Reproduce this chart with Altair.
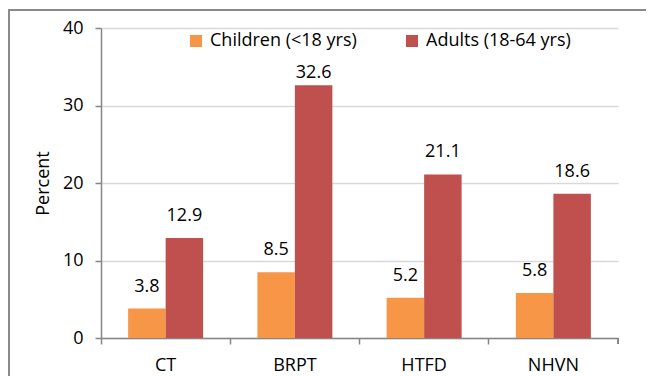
import altair as alt
import pandas as pd

regions = ["CT", "BRPT", "HTFD", "NHVN"]
groups = ["Children (<18 yrs)", "Adults (18-64 yrs)"]
children = [3.8, 8.5, 5.2, 5.8]
adults = [12.9, 32.6, 21.1, 18.6]
colors = ["#F79646", "#C0504D"]

rows = []
for r, c, a in zip(regions, children, adults):
    rows.append({"region": r, "group": groups[0], "value": c})
    rows.append({"region": r, "group": groups[1], "value": a})
df = pd.DataFrame(rows)

W, H = 517, 310
FONT = "Open Sans"

x_enc = alt.X("region:N", sort=regions, title=None,
              scale=alt.Scale(paddingInner=0, paddingOuter=0),
              axis=alt.Axis(labelAngle=0, bandPosition=0, tickSize=6, labelPadding=12,
                            labelFontSize=18, labelFont=FONT, labelColor="#000000",
                            domainColor="#868686", tickColor="#868686", domainWidth=1.5, tickWidth=1.5))
xoff = alt.XOffset("group:N", sort=groups, scale=alt.Scale(paddingOuter=0.7235, paddingInner=0))

bars = alt.Chart(df).mark_bar().encode(
    x=x_enc,
    xOffset=xoff,
    y=alt.Y("value:Q", title="Percent",
            scale=alt.Scale(domain=[0, 40], nice=False),
            axis=alt.Axis(values=[0, 10, 20, 30, 40], tickSize=6, labelPadding=12,
                          labelFontSize=18, labelFont=FONT, labelColor="#000000",
                          titleFontSize=18, titleFont=FONT, titleFontWeight="normal",
                          titleColor="#000000", titlePadding=10,
                          domainColor="#868686", tickColor="#868686", domainWidth=1.5, tickWidth=1.5,
                          gridColor="#D9D9D9", gridWidth=1.5)),
    color=alt.Color("group:N", sort=groups,
                    scale=alt.Scale(domain=groups, range=colors),
                    legend=alt.Legend(title=None, orient="none", legendX=86, legendY=4,
                                      direction="horizontal", columns=2, columnPadding=46,
                                      symbolType="square", symbolSize=144, symbolStrokeWidth=0,
                                      labelFontSize=18, labelFont=FONT, labelColor="#000000",
                                      labelOffset=5, padding=0)),
)

labels = alt.Chart(df).transform_calculate(
    label_y="min(datum.value + 2.2, 33.5)"
).mark_text(fontSize=18, font=FONT, color="#000000", baseline="alphabetic").encode(
    x=alt.X("region:N", sort=regions),
    xOffset=xoff,
    y=alt.Y("label_y:Q"),
    text=alt.Text("value:Q", format=".1f"),
)

end_tick = alt.Chart(df).mark_rule(color="#868686", strokeWidth=1.5).encode(
    x=alt.value(W), y=alt.value(H), y2=alt.value(H + 6)
)

border = alt.Chart(df).mark_rect(fillOpacity=0, stroke="#8A8A8A", strokeWidth=2).encode(
    x=alt.value(-92), x2=alt.value(W + 200), y=alt.value(-18), y2=alt.value(H + 200)
)

chart = alt.layer(bars, labels, end_tick, border).properties(
    width=W, height=H,
    autosize=alt.AutoSizeParams(type="none"),
    padding={"left": 93, "top": 20, "right": 28, "bottom": 40},
).configure_view(stroke=None).configure_axisY(gridColor="#D9D9D9")

chart.save("out.html", embed_options={"renderer": "svg", "actions": False})
